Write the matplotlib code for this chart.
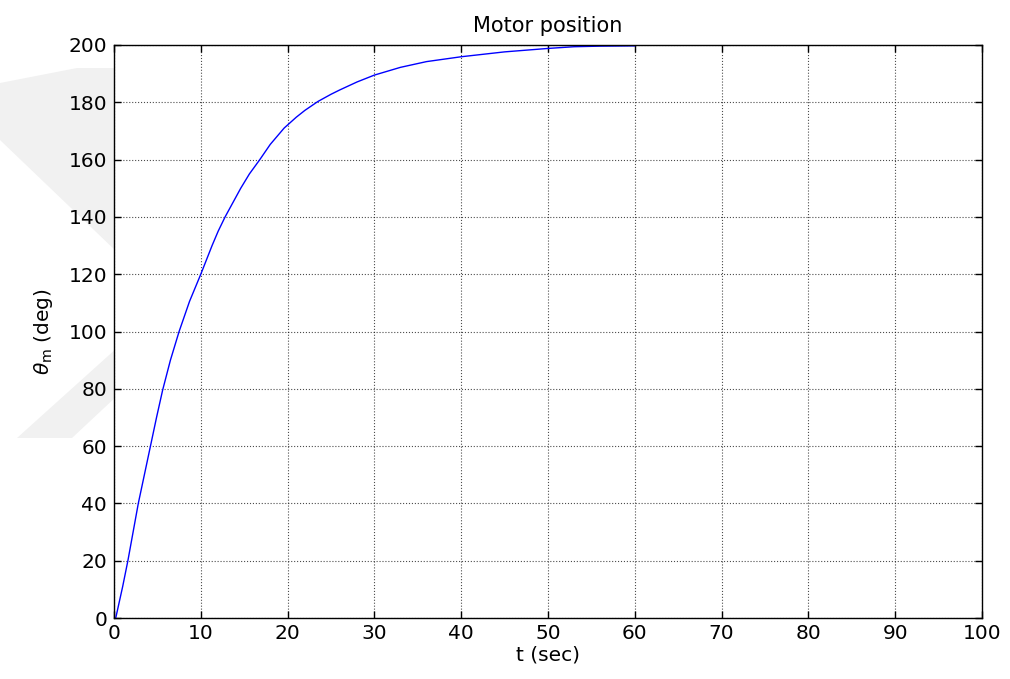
import matplotlib.pyplot as plt
from matplotlib.patches import Polygon

# motor shaft angle vs time (closed-loop position response)
t_sec = [0, 0.2, 1.0, 1.6, 2.2, 2.8, 3.5, 4.2, 4.9, 5.6, 6.5, 7.5, 8.7, 10.0,
         11.3, 12.0, 12.8, 13.7, 14.6, 15.6, 16.8, 18.0, 19.6, 21.0, 22.0,
         23.5, 25.0, 26.0, 28.0, 30.0, 33.0, 36.0, 40.0, 45.0, 50.0, 53.0,
         56.0, 60.0]
theta_deg = [0, 0, 11, 20, 30, 40, 50, 60, 70, 79.5, 90, 100, 110.5, 120,
             130, 135, 140, 145, 150, 155, 160, 165.3, 171, 174.8, 177.2,
             180.3, 182.8, 184.3, 187.1, 189.5, 192.2, 194.2, 195.9, 197.6,
             198.8, 199.4, 199.6, 199.7]

x_ticks = list(range(0, 101, 10))
y_ticks = list(range(0, 201, 20))

plt.rcParams["font.family"] = "DejaVu Sans"
plt.rcParams["mathtext.fontset"] = "dejavusans"

fig = plt.figure(figsize=(10.1, 6.79), dpi=100)
W, H = 1010, 679

# faint watermark chevron behind the axes (pixel coords -> figure fraction)
def px(points):
    return [(x / W, 1 - y / H) for x, y in points]

upper_arm = px([(0, 83), (77, 68), (118, 68), (118, 253), (0, 140)])
lower_arm = px([(118, 347), (17, 438), (72, 438), (118, 395)])
for pts in (upper_arm, lower_arm):
    fig.patches.append(Polygon(pts, closed=True, transform=fig.transFigure,
                               facecolor="#f1f1f1", edgecolor="none", zorder=-5))

ax = fig.add_axes([114 / W, 1 - 618 / H, 868 / W, 573 / H])
ax.set_zorder(2)
ax.plot(t_sec, theta_deg, color="#0000ff", linewidth=1.0)

ax.set_xlim(0, 100)
ax.set_ylim(0, 200)
ax.set_xticks(x_ticks)
ax.set_yticks(y_ticks)
ax.tick_params(direction="in", length=5, width=1.0, top=True, right=True,
               labelsize=14.5, pad=5)
ax.tick_params(axis="x", pad=4)
for sp in ax.spines.values():
    sp.set_linewidth(1.0)

ax.grid(True, color="k", linestyle=":", linewidth=0.8, alpha=0.7)

ax.set_title("Motor position", fontsize=15, pad=9)
ax.set_xlabel("t (sec)", fontsize=14.5, labelpad=2)
ax.set_ylabel(r"$\theta_{\mathrm{m}}$ (deg)", fontsize=14.5, labelpad=10)

fig.savefig("out.png", dpi=100)
